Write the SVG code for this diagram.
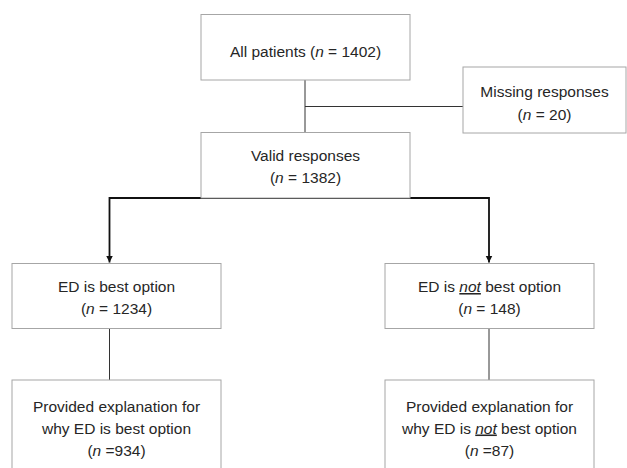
<svg xmlns="http://www.w3.org/2000/svg" width="627" height="468" viewBox="0 0 627 468">
  <style>
    .box { fill: #ffffff; stroke: #a6a6a6; stroke-width: 1; }
    .t { font-family: "Liberation Sans", Arial, sans-serif; font-size: 15.5px; fill: #262626; text-anchor: middle; }
    .i { font-style: italic; }
    .u { font-style: italic; text-decoration: underline; }
    .thin { fill: none; stroke: #333333; stroke-width: 1; }
    .thick { fill: none; stroke: #111111; stroke-width: 1.8; }
  </style>
  <defs>
    <marker id="arrow" markerUnits="userSpaceOnUse" markerWidth="8" markerHeight="8" refX="7" refY="3.5" orient="auto">
      <path d="M0,0 L7,3.5 L0,7 z" fill="#111111"/>
    </marker>
  </defs>

  <g id="connectors">
    <line class="thin" x1="305" y1="80" x2="305" y2="132.5"/>
    <line class="thin" x1="305" y1="106.5" x2="463" y2="106.5"/>
    <polyline class="thick" points="305,198 109.5,198 109.5,262.5" marker-end="url(#arrow)"/>
    <polyline class="thick" points="305,198 489,198 489,262.5" marker-end="url(#arrow)"/>
    <line class="thin" x1="109.5" y1="328.5" x2="109.5" y2="380"/>
    <line class="thin" x1="489" y1="328.5" x2="489" y2="380"/>
  </g>

  <g id="all-patients">
    <rect class="box" x="201" y="14.5" width="209" height="65.5"/>
    <text class="t" x="305.5" y="57">All patients (<tspan class="i">n</tspan> = 1402)</text>
  </g>

  <g id="missing">
    <rect class="box" x="463" y="67" width="163" height="66"/>
    <text class="t" x="544.5" y="96.5">Missing responses</text>
    <text class="t" x="544.5" y="119.5">(<tspan class="i">n</tspan> = 20)</text>
  </g>

  <g id="valid">
    <rect class="box" x="201" y="132.5" width="209" height="65.5"/>
    <text class="t" x="305.5" y="160.5">Valid responses</text>
    <text class="t" x="305.5" y="182.5">(<tspan class="i">n</tspan> = 1382)</text>
  </g>

  <g id="ed-best">
    <rect class="box" x="12" y="263.5" width="209" height="65"/>
    <text class="t" x="116.5" y="292">ED is best option</text>
    <text class="t" x="116.5" y="314">(<tspan class="i">n</tspan> = 1234)</text>
  </g>

  <g id="ed-not-best">
    <rect class="box" x="385" y="263.5" width="209" height="65"/>
    <text class="t" x="489.5" y="292">ED is <tspan class="u">not</tspan> best option</text>
    <text class="t" x="489.5" y="314">(<tspan class="i">n</tspan> = 148)</text>
  </g>

  <g id="explain-best">
    <rect class="box" x="12" y="380" width="209" height="100"/>
    <text class="t" x="116.5" y="411.5">Provided explanation for</text>
    <text class="t" x="116.5" y="433.5">why ED is best option</text>
    <text class="t" x="116.5" y="455.5">(<tspan class="i">n</tspan> =934)</text>
  </g>

  <g id="explain-not-best">
    <rect class="box" x="385" y="380" width="209" height="100"/>
    <text class="t" x="489.5" y="411.5">Provided explanation for</text>
    <text class="t" x="489.5" y="433.5">why ED is <tspan class="u">not</tspan> best option</text>
    <text class="t" x="489.5" y="455.5">(<tspan class="i">n</tspan> =87)</text>
  </g>
</svg>
